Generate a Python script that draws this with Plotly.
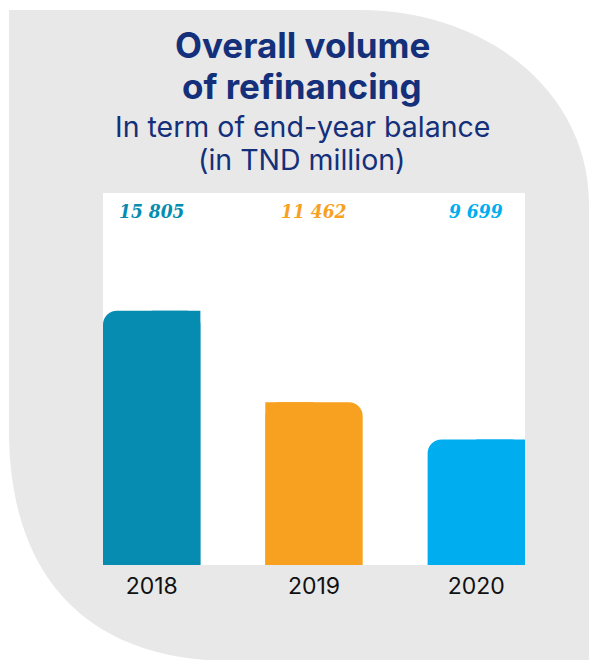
import plotly.graph_objects as go

# ---- data ----
years = ["2018", "2019", "2020"]
values = [15805, 11462, 9699]
value_labels = ["15 805", "11 462", "9 699"]
colors = ["#078cb1", "#f8a01f", "#00adee"]
square_side = ["right", "left", "right"]  # top corner that is NOT rounded

title_lines = ["Overall volume", "of refinancing"]
subtitle_lines = ["In term of end-year balance", "(in TND million)"]

W, H = 589, 660
NAVY = "#14307a"


def px(x):
    return x / W


def py(y):
    return 1 - y / H


bar_w = 0.6
fig = go.Figure()
fig.add_trace(go.Bar(
    x=years, y=values, width=bar_w,
    marker=dict(color=colors, cornerradius=14, line_width=0),
    hoverinfo="skip",
))
offsets = [0 if s == "right" else -bar_w / 2 for s in square_side]
fig.add_trace(go.Bar(
    x=years, y=values, width=bar_w / 2, offset=offsets,
    marker=dict(color=colors, line_width=0),
    hoverinfo="skip",
))

# background decorative shape (pixel points converted to paper coords)
pts = [
    ("M", [(9, 10)]),
    ("L", [(360, 10)]),
    ("C", [(485, 10), (589, 90), (589, 205)]),
    ("L", [(589, 660)]),
    ("L", [(205, 660)]),
    ("C", [(80, 650), (9, 570), (9, 430)]),
]
path = ""
for cmd, ps in pts:
    path += cmd + " " + " ".join(f"{px(a):.5f},{py(b):.5f}" for a, b in ps) + " "
path += "Z"

shapes = [
    dict(type="path", path=path, xref="paper", yref="paper",
         fillcolor="#e8e8e8", line=dict(width=0), layer="below"),
    dict(type="rect", xref="x domain", yref="y domain", x0=0, x1=1, y0=0, y1=1,
         fillcolor="white", line=dict(width=0), layer="below"),
]

annotations = []
for i, t in enumerate(title_lines):
    annotations.append(dict(
        text=f"<b>{t}</b>", x=px(302), y=py(45 + i * 41), xref="paper", yref="paper",
        showarrow=False, xanchor="center", yanchor="middle",
        font=dict(family="Inter", size=35, color=NAVY),
    ))
for i, t in enumerate(subtitle_lines):
    annotations.append(dict(
        text=t, x=px(302), y=py(126 + i * 33), xref="paper", yref="paper",
        showarrow=False, xanchor="center", yanchor="middle",
        font=dict(family="Inter", size=28.5, color=NAVY),
    ))
for i, (lab, c) in enumerate(zip(value_labels, colors)):
    annotations.append(dict(
        text=f"<b><i>{lab}</i></b>", x=i, xref="x", y=py(211), yref="paper",
        showarrow=False, xanchor="center", yanchor="middle",
        font=dict(family="DejaVu Serif Condensed, DejaVu Serif", size=19, color=c),
    ))

fig.update_layout(
    width=W, height=H,
    margin=dict(l=0, r=0, t=0, b=0),
    paper_bgcolor="white",
    plot_bgcolor="rgba(0,0,0,0)",
    barmode="overlay",
    showlegend=False,
    shapes=shapes,
    annotations=annotations,
    xaxis=dict(
        domain=[px(103), px(525)], type="category", range=[-0.3, 2.3],
        showgrid=False, zeroline=False, showline=False, ticks="",
        ticklabelstandoff=5,
        tickfont=dict(family="Inter", size=23, color="#111111"),
    ),
    yaxis=dict(
        domain=[py(565), py(193)], range=[3736, 21395], visible=False,
    ),
)

fig.write_html("out.html", config={"displayModeBar": False},
               post_script="document.body.style.margin='0';")
